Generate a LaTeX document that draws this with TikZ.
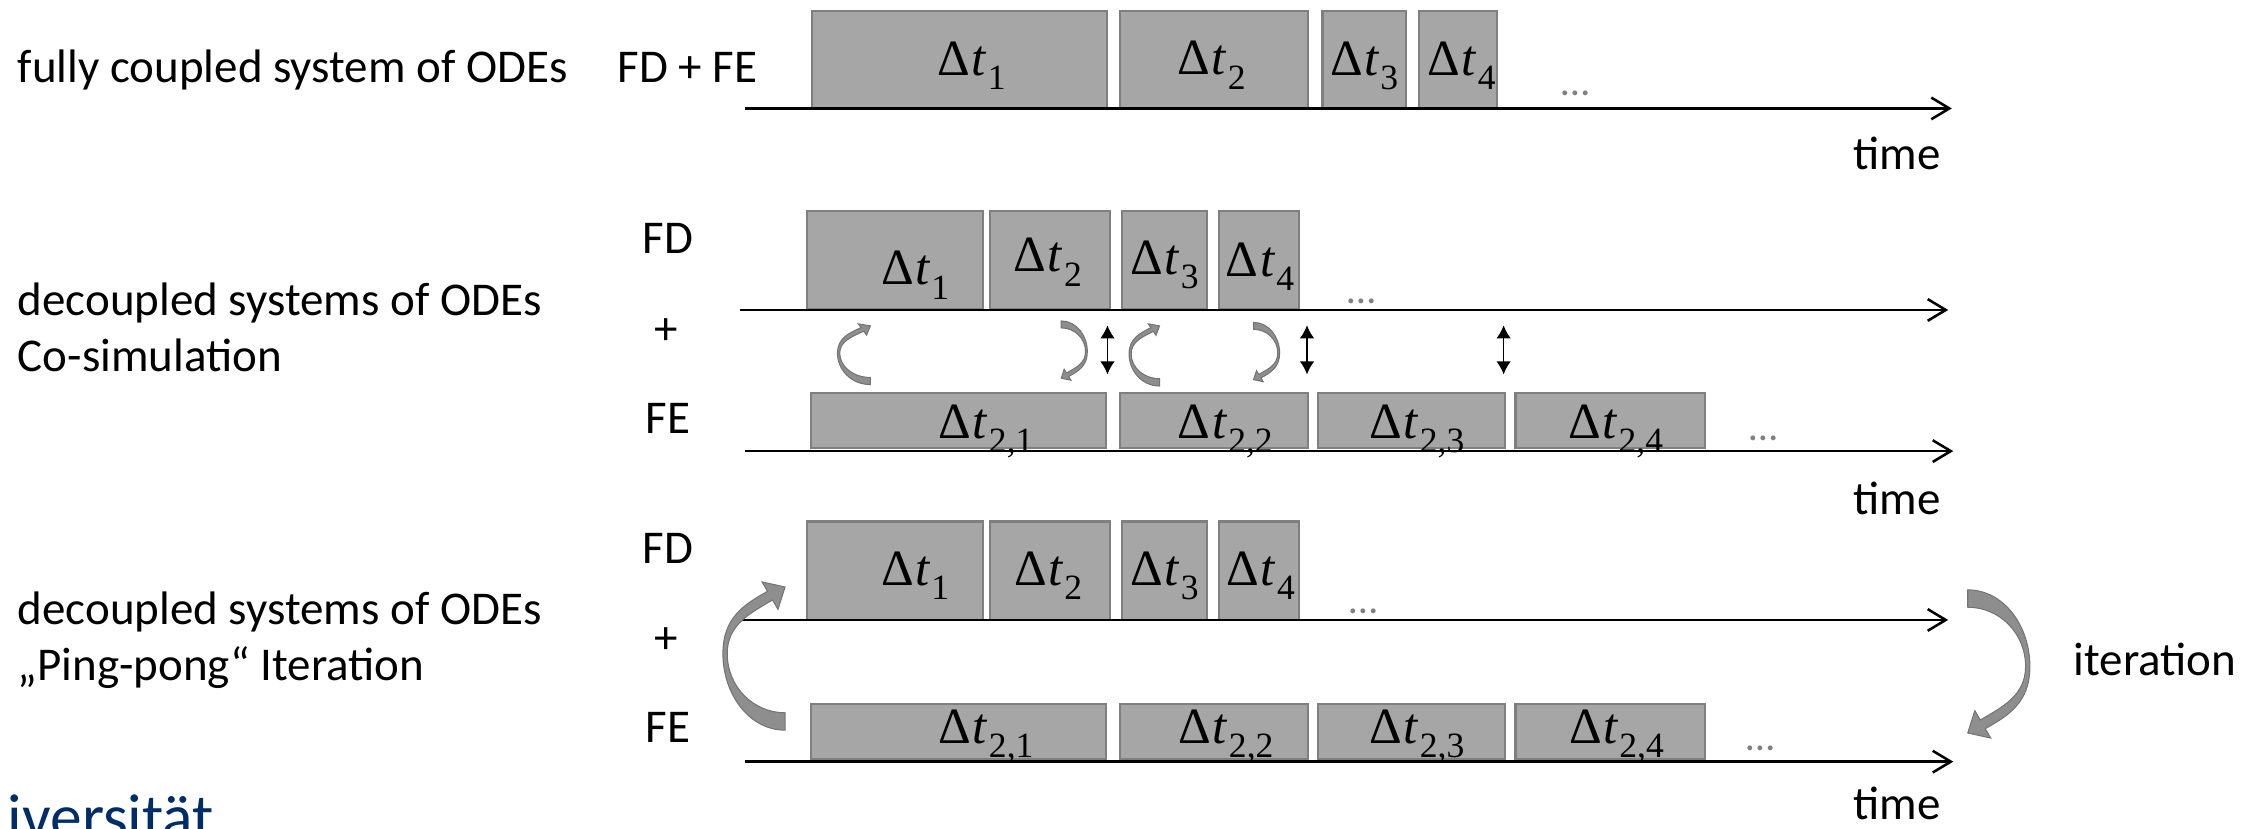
\documentclass[tikz,border=0pt]{standalone}
\usepackage{fontspec}
\setmainfont{Carlito}
\newfontfamily\dtfont{Liberation Serif}
\usetikzlibrary{arrows.meta}

\definecolor{slotfill}{RGB}{166,166,166}
\definecolor{slotedge}{RGB}{127,127,127}
\definecolor{bendfill}{RGB}{142,142,142}
\definecolor{bendedge}{RGB}{115,115,115}
\definecolor{dotgray}{RGB}{128,128,128}
\definecolor{uninavy}{RGB}{0,45,105}

% time step label: Delta t with an index
\newcommand\dtl[1]{{\dtfont Δ\kern0.03em\textit{t}\kern0.02em\raisebox{-0.28em}{\fontsize{14}{15}\selectfont #1}}}

\tikzset{
  slot/.style={draw=slotedge, line width=0.8pt, fill=slotfill, inner sep=0pt},
  axis/.style={line width=1pt, -{Straight Barb[length=0.25cm,width=0.3cm,line width=1pt]}},
  swap/.style={line width=0.6pt, {Latex[length=0.18cm,width=0.2cm]}-{Latex[length=0.18cm,width=0.2cm]}},
  lbl/.style={anchor=base west, inner sep=0pt, font=\fontsize{18.5}{22}\selectfont},
  tag/.style={anchor=base, inner sep=0pt, font=\fontsize{18.5}{22}\selectfont},
  dt/.style={anchor=base, inner sep=0pt, font=\fontsize{20}{22}\selectfont},
  more/.style={inner sep=0pt, text=dotgray, font=\fontsize{16}{18}\selectfont},
  % bent block arrow, tail at the origin, head up and to the right
  bend/.pic={
    \filldraw[fill=bendfill, draw=bendedge, line width=0.4pt]
      (0,0) .. controls (-25,0) and (-43,-25) .. (-43,-53)
      .. controls (-43,-78) and (-28,-87) .. (-12.15,-96)
      -- (-15.9,-102.5) -- (0,-99) -- (-4.9,-83.5) -- (-8.65,-90)
      .. controls (-24,-81) and (-40,-73) .. (-40,-53)
      .. controls (-40,-30) and (-22,-12) .. (0,-12) -- cycle;
  }
}

\begin{document}
\begin{tikzpicture}[x=0.02cm,y=-0.02cm]
\useasboundingbox (0,0) rectangle (1568,573);
\clip (0,0) rectangle (1568,573);

% row 1: monolithic
\node[lbl] (txtA) at (12,57) {fully coupled system of ODEs};
\node[lbl] (fdfe) at (427,57) {FD + FE};
\foreach \l/\r [count=\i] in {561/765,774/904,914/972,981/1035}
  \node[slot, anchor=north west, minimum width={(\r-\l)*0.02cm}, minimum height=1.34cm] (cpl\i) at (\l,7) {};
\foreach \x/\b/\s [count=\i] in {672/52/1,838/51.8/2,943.5/52/3,1011/52/4}
  \node[dt] (cpt\i) at (\x,\b) {\dtl{\s}};
\node[more] (cdots) at (1090,64.5) {…};
\coordinate (a0) at (515,75);
\coordinate (a1) at (1350,75);
\draw[axis] (a0) -- (a1);
\node[tag] (timeA) at (1312,117) {time};

% row 2: co-simulation
\node[lbl] (txtB) at (12,218) {decoupled systems of ODEs};
\node[lbl] (txtC) at (12,257) {Co-simulation};
\node[tag] (fdB) at (462,175.5) {FD};
\node[tag] (plusB) at (461,238) {+};
\node[tag] (feB) at (462,299.5) {FE};
\foreach \l/\r [count=\i] in {557.5/679,684/767,775.5/834,842.5/898}
  \node[slot, anchor=north west, minimum width={(\r-\l)*0.02cm}, minimum height=1.36cm] (fdb\i) at (\l,145) {};
\foreach \l/\r [count=\i] in {560.5/764.5,774/904,911/1040,1047.5/1178.5}
  \node[slot, anchor=north west, minimum width={(\r-\l)*0.02cm}, minimum height=0.76cm] (feb\i) at (\l,271) {};
\foreach \x/\b/\s [count=\i] in {633/197/1,724.7/188/2,805.5/190/3,871.5/191/4}
  \node[dt] (fdbt\i) at (\x,\b) {\dtl{\s}};
\foreach \x/\s [count=\i] in {682/1,847.5/2,980/3,1117.5/4}
  \node[dt] (febt\i) at (\x,303) {\dtl{2,\s}};
\node[more] (fdbdots) at (941.5,208.6) {…};
\node[more] (febdots) at (1219.5,303) {…};
\coordinate (b0) at (512,214.4);
\coordinate (b1) at (1347.5,214.4);
\coordinate (c0) at (515,312);
\coordinate (c1) at (1351,312);
\draw[axis] (b0) -- (b1);
\draw[axis] (c0) -- (c1);
\node[tag] (timeB) at (1312,356) {time};
% data exchange between the two solvers
\pic[xscale=.53, yscale=.41] at (602,266) {bend};
\pic[xscale=-.42, yscale=-.40] at (734,222) {bend};
\pic[xscale=.49, yscale=.42] at (802,267) {bend};
\pic[xscale=-.42, yscale=-.40] at (867,223) {bend};
\foreach \x [count=\i] in {766,904,1040} {
  \coordinate (up\i) at (\x,225);
  \coordinate (dn\i) at (\x,259);
  \draw[swap] (up\i) -- (dn\i);
}

% row 3: ping-pong iteration
\node[lbl] (txtD) at (12,432) {decoupled systems of ODEs};
\node[lbl] (txtE) at (12,470.5) {„Ping-pong“ Iteration};
\node[tag] (fdC) at (462,389.5) {FD};
\node[tag] (plusC) at (461,452) {+};
\node[tag] (feC) at (462,513.5) {FE};
\foreach \l/\r [count=\i] in {557.5/679,684/767,775.5/834,842.5/898}
  \node[slot, anchor=north west, minimum width={(\r-\l)*0.02cm}, minimum height=1.36cm] (fdc\i) at (\l,360) {};
\foreach \l/\r [count=\i] in {560.5/764.5,774/904,911/1040,1047.5/1178.5}
  \node[slot, anchor=north west, minimum width={(\r-\l)*0.02cm}, minimum height=0.76cm] (fec\i) at (\l,486) {};
\foreach \x/\s [count=\i] in {633/1,725/2,805.5/3,872/4}
  \node[dt] (fdct\i) at (\x,405) {\dtl{\s}};
\foreach \x/\s [count=\i] in {682/1,848/2,980/3,1118/4}
  \node[dt] (fect\i) at (\x,514) {\dtl{2,\s}};
\node[more] (fdcdots) at (942.8,423) {…};
\node[more] (fecdots) at (1218,517.6) {…};
\coordinate (d0) at (512.5,428.8);
\coordinate (d1) at (1347.5,428.8);
\coordinate (e0) at (515,526.8);
\coordinate (e1) at (1351,526.8);
\draw[axis] (d0) -- (d1);
\draw[axis] (e0) -- (e1);
\node[tag] (timeC) at (1312,567) {time};
\pic at (543,505) {bend};
\pic[xscale=-1, yscale=-1] at (1361,408) {bend};
\node[lbl] (iter) at (1434,467) {iteration};

% logo, cut at the lower edge
\node[anchor=base west, inner sep=0pt, text=uninavy, font=\fontsize{25}{30}\selectfont] (logo) at (5,580) {iversität};
\end{tikzpicture}
\end{document}
